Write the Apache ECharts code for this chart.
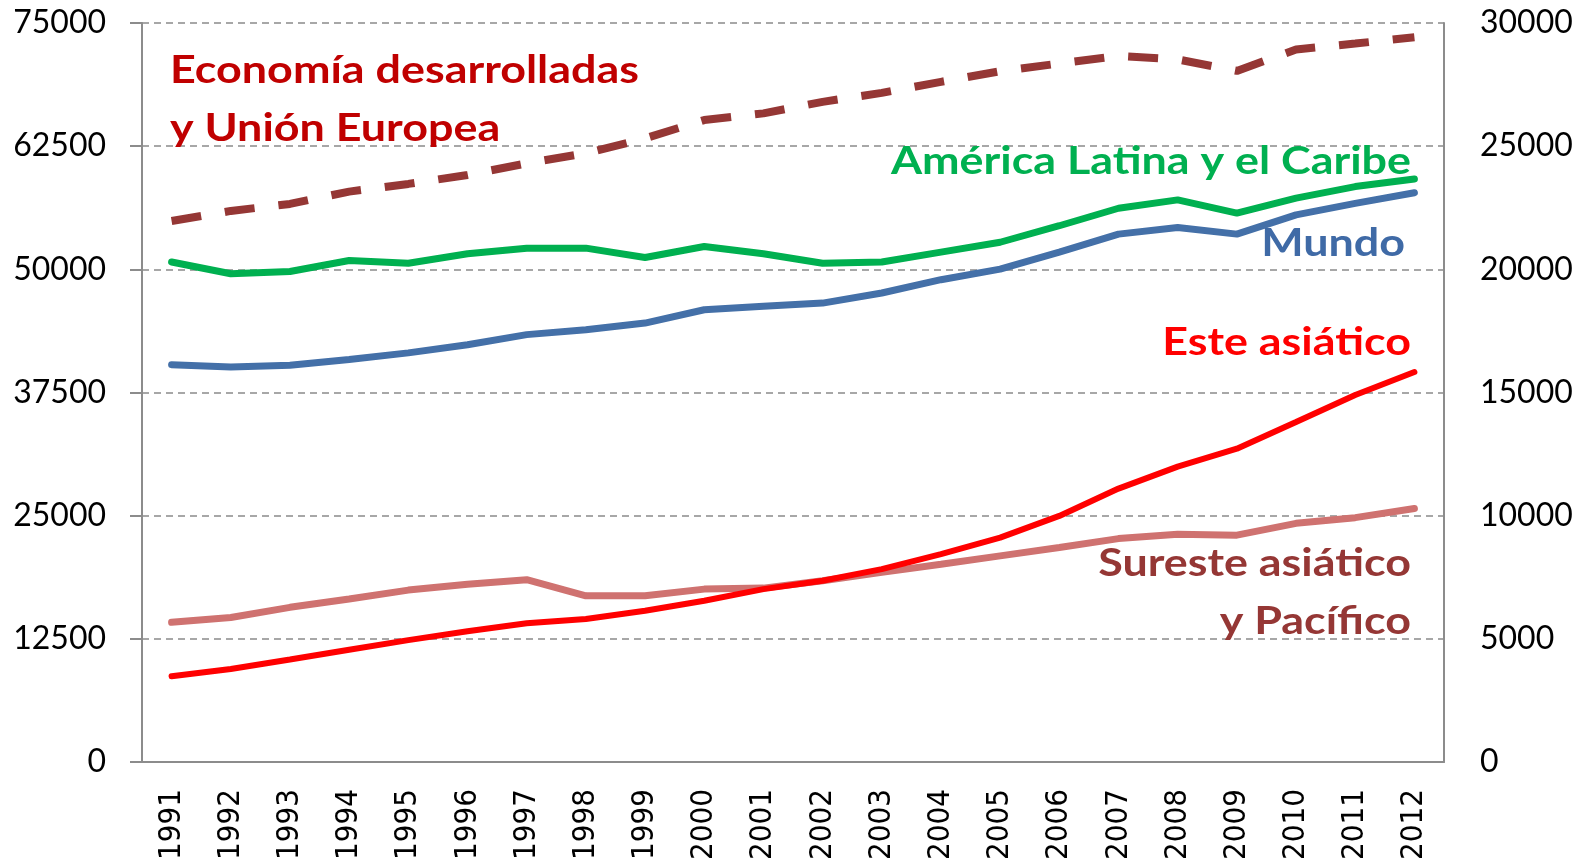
<!DOCTYPE html>
<html>
<head>
<meta charset="utf-8">
<script src="https://cdn.jsdelivr.net/npm/echarts@6/dist/echarts.min.js"></script>
<style>
html,body{margin:0;padding:0;background:#fff;}
#c{width:1586px;height:863px;}
</style>
</head>
<body>
<div id="c"></div>
<script>
const years = ['1991','1992','1993','1994','1995','1996','1997','1998','1999','2000','2001','2002','2003','2004','2005','2006','2007','2008','2009','2010','2011','2012'];
const leftTicks = [0, 12500, 25000, 37500, 50000, 62500, 75000];
const rightTicks = [0, 5000, 10000, 15000, 20000, 25000, 30000];

// left axis
const desarrolladas = [54900, 55930, 56640, 57890, 58670, 59580, 60760, 61780, 63290, 65150, 65830, 67000, 67910, 69030, 70110, 70890, 71660, 71300, 70140, 72310, 72910, 73550];
// right axis
const americaLatina = [20300, 19820, 19910, 20360, 20250, 20630, 20860, 20860, 20480, 20930, 20630, 20250, 20300, 20700, 21100, 21770, 22480, 22820, 22280, 22890, 23360, 23670];
const mundo = [16130, 16040, 16110, 16340, 16610, 16940, 17350, 17550, 17820, 18360, 18500, 18630, 19040, 19580, 20010, 20700, 21430, 21700, 21430, 22210, 22680, 23110];
const esteAsiatico = [3480, 3780, 4160, 4560, 4950, 5310, 5630, 5810, 6140, 6550, 7020, 7360, 7830, 8440, 9110, 9990, 11100, 11990, 12720, 13800, 14900, 15830];
const suresteAsiatico = [5670, 5870, 6280, 6620, 6980, 7220, 7400, 6750, 6750, 7020, 7060, 7360, 7700, 8030, 8370, 8710, 9070, 9250, 9210, 9690, 9920, 10290];

const chart = echarts.init(document.getElementById('c'), null, {renderer: 'canvas'});
const axisGray = '#8c8c8c';
const labelFont = 'Lato, "Open Sans", sans-serif';

const grid = {left: 142, right: 142, top: 23, bottom: 100};

function txt(text, x, y, color, align) {
  return {
    type: 'text', x: x, y: y, z: 100, scaleX: 1.15, scaleY: 1,
    style: {
      text: text, fill: color, align: align, verticalAlign: 'middle',
      font: 'bold 39px Lato, "Open Sans", sans-serif'
    }
  };
}

chart.setOption({
  animation: false,
  backgroundColor: '#fff',
  grid: grid,
  xAxis: {
    type: 'category',
    data: years,
    boundaryGap: true,
    axisLine: {show: true, lineStyle: {color: axisGray, width: 2}},
    axisTick: {show: false},
    axisLabel: {
      rotate: 90, margin: 27, color: '#000',
      fontFamily: '"DejaVu Sans Condensed", "Liberation Sans", sans-serif', fontSize: 31
    },
    splitLine: {show: false}
  },
  yAxis: [
    {
      type: 'value', min: leftTicks[0], max: leftTicks[leftTicks.length - 1], interval: leftTicks[1] - leftTicks[0],
      position: 'left',
      axisLine: {show: true, lineStyle: {color: axisGray, width: 2}},
      axisTick: {show: true, length: 12, lineStyle: {color: axisGray, width: 2}},
      axisLabel: {margin: 36, color: '#000', fontFamily: labelFont, fontSize: 32, formatter: v => String(v)},
      splitLine: {show: true, lineStyle: {color: '#8a8a8a', width: 1.5, type: [7, 5]}}
    },
    {
      type: 'value', min: rightTicks[0], max: rightTicks[rightTicks.length - 1], interval: rightTicks[1] - rightTicks[0],
      position: 'right',
      axisLine: {show: true, lineStyle: {color: axisGray, width: 2}},
      axisTick: {show: false},
      axisLabel: {margin: 36, color: '#000', fontFamily: labelFont, fontSize: 32, formatter: v => String(v)},
      splitLine: {show: false}
    }
  ],
  series: [
    {
      name: 'Economía desarrolladas y Unión Europea', type: 'line', yAxisIndex: 0, data: desarrolladas,
      symbol: 'none', lineStyle: {color: '#953735', width: 8, type: [30, 24]}
    },
    {
      name: 'América Latina y el Caribe', type: 'line', yAxisIndex: 1, data: americaLatina,
      symbol: 'none', lineStyle: {color: '#00b050', width: 7, cap: 'round'}
    },
    {
      name: 'Mundo', type: 'line', yAxisIndex: 1, data: mundo,
      symbol: 'none', lineStyle: {color: '#4470a8', width: 7, cap: 'round'}
    },
    {
      name: 'Sureste asiático y Pacífico', type: 'line', yAxisIndex: 1, data: suresteAsiatico,
      symbol: 'none', lineStyle: {color: '#cf7270', width: 7, cap: 'round'}
    },
    {
      name: 'Este asiático', type: 'line', yAxisIndex: 1, data: esteAsiatico,
      symbol: 'none', lineStyle: {color: '#ff0000', width: 6, cap: 'round'}
    }
  ],
  graphic: [
    txt('Economía desarrolladas', 170, 70, '#c00000', 'left'),
    txt('y Unión Europea', 170, 128, '#c00000', 'left'),
    txt('América Latina y el Caribe', 1411, 161, '#00b050', 'right'),
    txt('Mundo', 1405, 243, '#3f6aa6', 'right'),
    txt('Este asiático', 1411, 342, '#ff0000', 'right'),
    txt('Sureste asiático', 1411, 563, '#953735', 'right'),
    txt('y Pacífico', 1411, 621, '#953735', 'right')
  ]
});
</script>
</body>
</html>
